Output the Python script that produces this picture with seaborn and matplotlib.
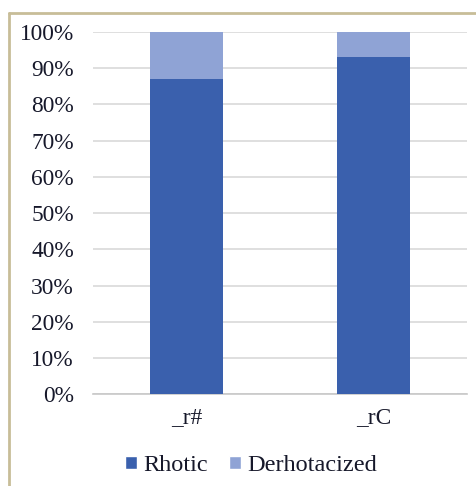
import pandas as pd
import seaborn as sns
import matplotlib.pyplot as plt
from matplotlib.patches import Patch
from matplotlib.lines import Line2D

# share of rhotic vs derhotacized tokens per context
contexts = ['_r#', '_rC']
rhotic = [87, 93]
derhotacized = [13, 7]

df = pd.DataFrame({'Context': contexts, 'Rhotic': rhotic, 'Derhotacized': derhotacized})
df['Total'] = df['Rhotic'] + df['Derhotacized']

dark = '#3a60ad'
light = '#8fa3d5'
txt = '#16182a'

sns.set_style('white')
plt.rcParams['font.family'] = ['Liberation Serif', 'DejaVu Serif']

fig = plt.figure(figsize=(4.76, 4.86), dpi=100)
ax = fig.add_axes([0.196, 0.189, 0.786, 0.745])

# stacked: draw total first, rhotic on top
sns.barplot(data=df, x='Context', y='Total', color=light, width=0.39, saturation=1,
            linewidth=0, ax=ax, zorder=3)
sns.barplot(data=df, x='Context', y='Rhotic', color=dark, width=0.39, saturation=1,
            linewidth=0, ax=ax, zorder=4)

ax.set_ylim(0, 100)
ax.set_xlim(-0.5, 1.5)
ax.set_yticks(range(0, 101, 10))
ax.set_yticklabels([f'{v}%' for v in range(0, 101, 10)], fontsize=16.8, color=txt)
ax.tick_params(axis='x', labelsize=16.8, colors=txt, pad=9, length=0)
ax.tick_params(axis='y', pad=14, length=0)
ax.set_xlabel('')
ax.set_ylabel('')
ax.yaxis.grid(True, color='#d9d9d9', linewidth=1.2, zorder=0)
ax.set_axisbelow(True)
for s in ['top', 'right', 'left']:
    ax.spines[s].set_visible(False)
ax.spines['bottom'].set_color('#c8c8c8')
ax.spines['bottom'].set_linewidth(1.2)

handles = [Patch(facecolor=dark, label='Rhotic'), Patch(facecolor=light, label='Derhotacized')]
leg = fig.legend(handles=handles, loc='center', bbox_to_anchor=(0.527, 0.042), ncol=2, frameon=False,
                 fontsize=17.5, handlelength=0.5, handleheight=0.5, handletextpad=0.25,
                 columnspacing=0.85)
for t in leg.get_texts():
    t.set_color(txt)

# outer frame (top and left edges only visible)
fig.add_artist(Line2D([9 / 476, 1], [1 - 13.5 / 486, 1 - 13.5 / 486], color='#c8bd98', linewidth=2))
fig.add_artist(Line2D([9 / 476, 9 / 476], [0, 1 - 13.5 / 486], color='#c8bd98', linewidth=2))

fig.savefig('out.png', dpi=100)
